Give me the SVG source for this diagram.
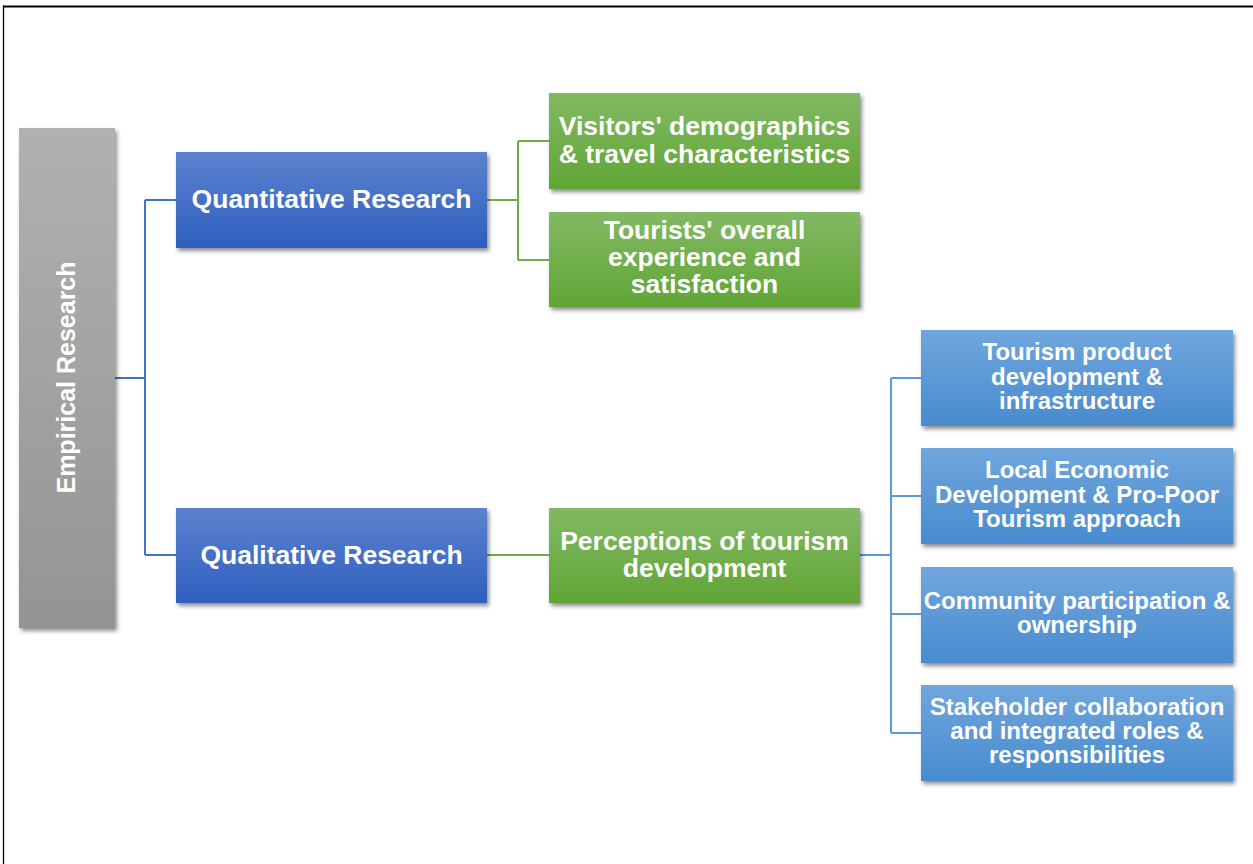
<svg xmlns="http://www.w3.org/2000/svg" width="1253" height="864" viewBox="0 0 1253 864">
  <defs>
    <linearGradient id="gGray" x1="0" y1="0" x2="0" y2="1">
      <stop offset="0" stop-color="#b1b1b1"/>
      <stop offset="1" stop-color="#949494"/>
    </linearGradient>
    <linearGradient id="gBlue" x1="0" y1="0" x2="0" y2="1">
      <stop offset="0" stop-color="#5d82cf"/>
      <stop offset="1" stop-color="#2e5fbe"/>
    </linearGradient>
    <linearGradient id="gGreen" x1="0" y1="0" x2="0" y2="1">
      <stop offset="0" stop-color="#82b964"/>
      <stop offset="1" stop-color="#61a535"/>
    </linearGradient>
    <linearGradient id="gLight" x1="0" y1="0" x2="0" y2="1">
      <stop offset="0" stop-color="#70a6dd"/>
      <stop offset="1" stop-color="#488bcf"/>
    </linearGradient>
    <filter id="sh" x="-10%" y="-10%" width="125%" height="130%">
      <feDropShadow dx="2" dy="3" stdDeviation="2" flood-color="#000" flood-opacity="0.45"/>
    </filter>
  </defs>
  <style>
    .t { font-family: "Liberation Sans", Arial, sans-serif; font-weight: bold; fill: #ffffff; text-anchor: middle; }
    .big { font-size: 26.5px; }
    .sm { font-size: 24px; }
    .v { font-size: 25px; }
    .c { fill: none; stroke-width: 2; }
  </style>
  <rect x="0" y="0" width="1253" height="864" fill="#ffffff"/>
  <g id="frame">
    <line x1="3" y1="6.5" x2="1253" y2="6.5" stroke="#000" stroke-width="2"/>
    <line x1="3.5" y1="5.5" x2="3.5" y2="864" stroke="#000" stroke-width="1.3"/>
  </g>
  <g id="connectors">
    <path class="c" stroke="#4472c4" d="M115 378 H145 M145 200 V555 M145 200 H176 M145 555 H176"/>
    <path class="c" stroke="#70ad47" d="M487 200 H518 M518 141 V260 M518 141 H549 M518 260 H549"/>
    <path class="c" stroke="#70ad47" d="M487 555 H549"/>
    <path class="c" stroke="#5b9bd5" d="M860 555 H891 M891 378 V733 M891 378 H921 M891 496 H921 M891 614 H921 M891 733 H921"/>
  </g>
  <g id="empirical">
    <rect x="19" y="128" width="96" height="500" fill="url(#gGray)" filter="url(#sh)"/>
    <text class="t v" transform="translate(75 377.5) rotate(-90)" x="0" y="0">Empirical Research</text>
  </g>
  <g id="quantitative">
    <rect x="176" y="152" width="311" height="96" fill="url(#gBlue)" filter="url(#sh)"/>
    <text class="t big" x="331.5" y="208">Quantitative Research</text>
  </g>
  <g id="qualitative">
    <rect x="176" y="508" width="311" height="95" fill="url(#gBlue)" filter="url(#sh)"/>
    <text class="t big" x="331.5" y="564">Qualitative Research</text>
  </g>
  <g id="visitors">
    <rect x="549" y="93" width="311" height="96" fill="url(#gGreen)" filter="url(#sh)"/>
    <text class="t big" x="704.5" y="135">Visitors' demographics</text>
    <text class="t big" x="704.5" y="163">&amp; travel characteristics</text>
  </g>
  <g id="tourists">
    <rect x="549" y="212" width="311" height="95" fill="url(#gGreen)" filter="url(#sh)"/>
    <text class="t big" x="704.5" y="239">Tourists' overall</text>
    <text class="t big" x="704.5" y="266">experience and</text>
    <text class="t big" x="704.5" y="293">satisfaction</text>
  </g>
  <g id="perceptions">
    <rect x="549" y="508" width="311" height="95" fill="url(#gGreen)" filter="url(#sh)"/>
    <text class="t big" x="704.5" y="550">Perceptions of tourism</text>
    <text class="t big" x="704.5" y="577">development</text>
  </g>
  <g id="product">
    <rect x="921" y="330" width="312" height="96" fill="url(#gLight)" filter="url(#sh)"/>
    <text class="t sm" x="1077" y="360">Tourism product</text>
    <text class="t sm" x="1077" y="384.5">development &amp;</text>
    <text class="t sm" x="1077" y="409">infrastructure</text>
  </g>
  <g id="led">
    <rect x="921" y="448" width="312" height="96" fill="url(#gLight)" filter="url(#sh)"/>
    <text class="t sm" x="1077" y="478">Local Economic</text>
    <text class="t sm" x="1077" y="502.5">Development &amp; Pro-Poor</text>
    <text class="t sm" x="1077" y="527">Tourism approach</text>
  </g>
  <g id="community">
    <rect x="921" y="567" width="312" height="96" fill="url(#gLight)" filter="url(#sh)"/>
    <text class="t sm" x="1077" y="609">Community participation &amp;</text>
    <text class="t sm" x="1077" y="633">ownership</text>
  </g>
  <g id="stakeholder">
    <rect x="921" y="685" width="312" height="96" fill="url(#gLight)" filter="url(#sh)"/>
    <text class="t sm" x="1077" y="715">Stakeholder collaboration</text>
    <text class="t sm" x="1077" y="739">and integrated roles &amp;</text>
    <text class="t sm" x="1077" y="763">responsibilities</text>
  </g>
</svg>
